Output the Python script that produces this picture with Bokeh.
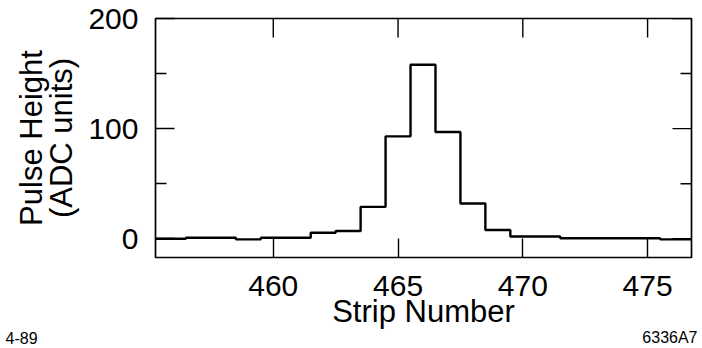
import numpy as np
from bokeh.plotting import figure
from bokeh.models import LinearAxis, FixedTicker, Label, Range1d
from bokeh.embed import file_html
from bokeh.resources import INLINE

# ---- data ----
strip = [455, 456, 457, 458, 459, 460, 461, 462, 463, 464, 465, 466,
         467, 468, 469, 470, 471, 472, 473, 474, 475, 476, 477]
pulse = [0, 0, 1, 1, -0.5, 1, 1, 5.5, 7, 29, 93, 158,
         97, 32, 8, 2, 2, 0.5, 0.5, 0.5, 0.5, -0.5, -0.5]
x_ticks = [460, 465, 470, 475]
y_major = [0, 100, 200]
y_minor = [50, 150]
x_title = "Strip Number"
y_title = "Pulse Height\n(ADC units)"
note_left = "4-89"
note_right = "6336A7"

FONT = "Liberation Sans"
X0, X1 = 455.28, 476.76
Y0, Y1 = -17, 200

p = figure(width=702, height=348, output_backend="svg", toolbar_location=None,
           x_range=Range1d(X0, X1), y_range=Range1d(Y0, Y1),
           x_axis_location=None, y_axis_location=None,
           min_border_left=155, min_border_right=11,
           min_border_top=18, min_border_bottom=88)
p.xgrid.visible = False
p.ygrid.visible = False
p.outline_line_color = "black"
p.outline_line_width = 1.7
p.background_fill_color = "white"
p.border_fill_color = "white"


def style(ax, ticks, minor):
    ax.ticker = FixedTicker(ticks=ticks, minor_ticks=minor)
    ax.axis_line_color = None
    ax.major_tick_in = 19
    ax.major_tick_out = 0
    ax.minor_tick_in = 11
    ax.minor_tick_out = 0
    ax.major_tick_line_color = "black"
    ax.minor_tick_line_color = "black"
    ax.major_tick_line_width = 1.4
    ax.minor_tick_line_width = 1.4
    ax.major_label_text_font = FONT
    ax.major_label_text_color = "black"
    ax.major_label_text_font_size = "30px"
    ax.axis_label_text_font = FONT
    ax.axis_label_text_font_size = "31px"
    ax.axis_label_text_font_style = "normal"
    ax.axis_label_text_color = "black"
    ax.axis_label_text_line_height = 0.86


bx = LinearAxis(axis_label=x_title)
style(bx, x_ticks, [])
bx.major_label_standoff = 18
bx.axis_label_standoff = -5
p.add_layout(bx, "below")

ly = LinearAxis(axis_label=y_title)
style(ly, y_major, y_minor)
ly.major_label_standoff = 17
ly.axis_label_standoff = 6
p.add_layout(ly, "left")

# inward ticks on the top and right edges of the frame
tick_kw = dict(line_color="black", line_width=1.4, length_units="screen")
p.ray(x=x_ticks, y=[Y1] * len(x_ticks), length=19, angle=-np.pi / 2, **tick_kw)
p.ray(x=[X1] * len(y_major), y=y_major, length=19, angle=np.pi, **tick_kw)
p.ray(x=[X1] * len(y_minor), y=y_minor, length=11, angle=np.pi, **tick_kw)

p.step(strip, pulse, mode="center", line_color="black", line_width=2.4)

# notes live in side panels (canvas coordinates) so they are not clipped
for txt, xx, al, side in [(note_left, 5, "left", "above"),
                          (note_right, 697, "right", "below")]:
    p.add_layout(Label(x=xx, y=337, x_units="canvas", y_units="canvas",
                       text=txt, text_font=FONT, text_font_size="16px",
                       text_line_height=0.5,
                       text_color="black", text_align=al,
                       text_baseline="alphabetic"), side)

open("out.html", "w").write(file_html(p, INLINE))
